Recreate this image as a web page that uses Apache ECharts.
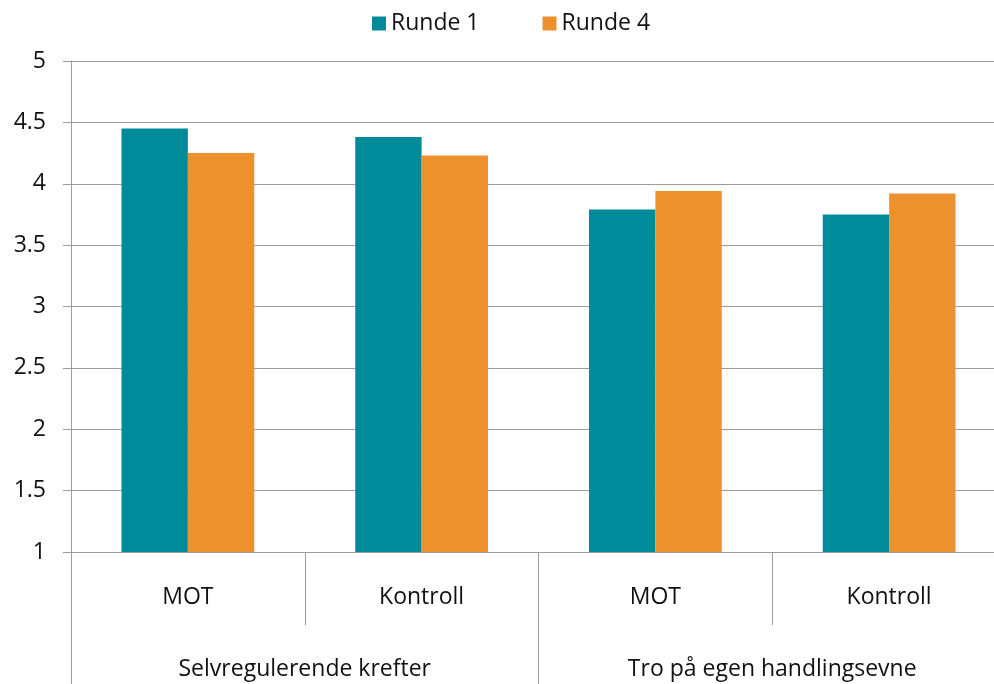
<!DOCTYPE html>
<html>
<head>
<meta charset="utf-8">
<script src="https://cdn.jsdelivr.net/npm/echarts@6/dist/echarts.min.js"></script>
<style>html,body{margin:0;padding:0;background:#fff;overflow:hidden;width:994px;height:684px}#c{width:1006px;height:684px}</style>
</head>
<body>
<div id="c"></div>
<script>
const subCategories = ['MOT', 'Kontroll', 'MOT', 'Kontroll'];
const groupCategories = ['Selvregulerende krefter', 'Tro på egen handlingsevne'];
const seriesNames = ['Runde 1', 'Runde 4'];
const runde1 = [4.45, 4.38, 3.79, 3.75];
const runde4 = [4.25, 4.23, 3.94, 3.92];
const colors = ['#008B9A', '#EC912D'];
const gray = '#9C9C9C';
const font = '"Open Sans", "Noto Sans", sans-serif';
const fs = 23;

const chart = echarts.init(document.getElementById('c'), null, {renderer: 'canvas'});
chart.setOption({
  animation: false,
  textStyle: {fontFamily: font},
  legend: {
    top: 7, left: 367,
    itemWidth: 14, itemHeight: 14, itemGap: 63,
    icon: 'rect',
    textStyle: {fontSize: fs, color: '#111', fontFamily: font},
    data: seriesNames
  },
  grid: {left: 71, right: 0, top: 61, bottom: 132, containLabel: false},
  xAxis: [
    {
      type: 'category', data: subCategories, position: 'bottom',
      axisLine: {show: true, lineStyle: {color: gray, width: 1}},
      axisTick: {show: true, interval: 0, length: 73, lineStyle: {color: gray, width: 1}},
      axisLabel: {interval: 0, margin: 34, fontSize: fs, color: '#111', fontFamily: font},
      splitLine: {show: false}
    },
    {
      type: 'category', data: groupCategories, position: 'bottom',
      axisLine: {show: false},
      axisTick: {show: true, interval: 0, length: 150, lineStyle: {color: gray, width: 1}},
      axisLabel: {interval: 0, margin: 106, fontSize: fs, color: '#111', fontFamily: font},
      splitLine: {show: false}
    }
  ],
  yAxis: {
    type: 'value', min: 1, max: 5, interval: 0.5,
    axisLine: {show: true, lineStyle: {color: gray, width: 1}},
    axisTick: {show: true, length: 8, lineStyle: {color: gray, width: 1}},
    axisLabel: {margin: 25, fontSize: fs, color: '#111', fontFamily: font},
    splitLine: {show: true, lineStyle: {color: gray, width: 1}}
  },
  series: [
    {name: seriesNames[0], type: 'bar', xAxisIndex: 0, data: runde1, barWidth: '28.4%', barGap: '0%',
     itemStyle: {color: colors[0]}},
    {name: seriesNames[1], type: 'bar', xAxisIndex: 0, data: runde4, barWidth: '28.4%', barGap: '0%',
     itemStyle: {color: colors[1]}}
  ]
});
</script>
</body>
</html>
